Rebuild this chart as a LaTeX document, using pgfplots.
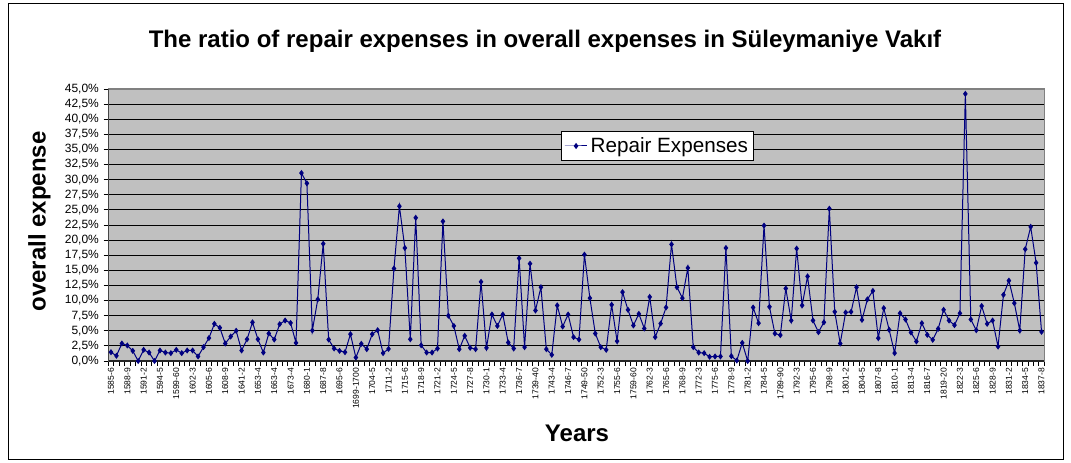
\documentclass[border=0pt]{standalone}
\usepackage{fontspec}
\setmainfont{Liberation Sans}
\usepackage{pgfplots}
\pgfplotsset{compat=1.18}
\definecolor{plotbg}{HTML}{C0C0C0}
\definecolor{navyblue}{HTML}{000080}
\definecolor{bordergray}{HTML}{808080}
\begin{document}
\begin{tikzpicture}
\useasboundingbox (0,0) rectangle (803.25pt,346.5pt);
\fill[white] (0,0) rectangle (803.25pt,346.5pt);
\draw[black, line width=0.75pt] (6pt,2.25pt) rectangle (797.25pt,344.25pt);
\begin{axis}[
  at={(81.2pt,75.75pt)}, anchor=south west,
  scale only axis, width=702pt, height=204pt,
  xmin=-0.5, xmax=171.5, ymin=0, ymax=45,
  axis background/.style={fill=plotbg},
  axis line style={draw=bordergray, line width=1pt},
  tick pos=left,
  ytick={0,2.5,...,45},
  yticklabels={{0,0\%},{2,5\%},{5,0\%},{7,5\%},{10,0\%},{12,5\%},{15,0\%},{17,5\%},{20,0\%},{22,5\%},{25,0\%},{27,5\%},{30,0\%},{32,5\%},{35,0\%},{37,5\%},{40,0\%},{42,5\%},{45,0\%}},
  yticklabel style={font=\fontsize{9}{10}\selectfont},
  ymajorgrids, grid style={black, line width=0.75pt},
  xtick={-0.5,0.5,...,171.5}, xticklabel=\empty,
  tick align=outside, major tick length=3.5pt,
  tick style={black, line width=0.6pt},
  extra x ticks={0,3,...,171},
  extra x tick labels={1585-6,1588-9,1591-2,1594-5,1599-60,1602-3,1605-6,1608-9,1641-2,1653-4,1663-4,1673-4,1680-1,1687-8,1695-6,1699-1700,1704-5,1711-2,1715-6,1718-9,1721-2,1724-5,1727-8,1730-1,1733-4,1736-7,1739-40,1743-4,1746-7,1749-50,1752-3,1755-6,1759-60,1762-3,1765-6,1768-9,1772-3,1775-6,1778-9,1781-2,1784-5,1789-90,1792-3,1795-6,1798-9,1801-2,1804-5,1807-8,1810-1,1813-4,1816-7,1819-20,1822-3,1825-6,1828-9,1831-2,1834-5,1837-8},
  extra x tick style={major tick length=0pt, grid=none,
    tick label style={rotate=90, anchor=east, font=\fontsize{6.4}{7}\selectfont, inner ysep=0.5pt, inner xsep=5pt}},
  legend style={at={(0.4837,0.8456)}, anchor=north west, draw=black, fill=white,
    font=\fontsize{15.5}{17}\selectfont, inner xsep=2pt, inner ysep=2.5pt, line width=0.75pt},
  legend cell align=left,
]
\addplot[navyblue, line width=0.75pt, mark=diamond*, mark size=1.7pt, mark options={fill=navyblue, draw=navyblue}] coordinates {
(0,1.46) (1,0.86) (2,2.9) (3,2.57) (4,1.68) (5,0.0) (6,1.85) (7,1.4) (8,0.0) (9,1.74)
(10,1.4) (11,1.3) (12,1.85) (13,1.3) (14,1.74) (15,1.74) (16,0.75) (17,2.3) (18,3.8) (19,6.15)
(20,5.5) (21,2.9) (22,4.05) (23,5.0) (24,1.74) (25,3.6) (26,6.4) (27,3.6) (28,1.4) (29,4.55)
(30,3.55) (31,6.1) (32,6.7) (33,6.3) (34,3.0) (35,31.1) (36,29.4) (37,5.05) (38,10.2) (39,19.4)
(40,3.55) (41,2.07) (42,1.68) (43,1.46) (44,4.44) (45,0.58) (46,2.84) (47,1.96) (48,4.44) (49,5.1)
(50,1.3) (51,2.0) (52,15.3) (53,25.6) (54,18.7) (55,3.6) (56,23.7) (57,2.6) (58,1.4) (59,1.4)
(60,2.07) (61,23.1) (62,7.5) (63,5.8) (64,1.96) (65,4.17) (66,2.18) (67,1.96) (68,13.1) (69,2.18)
(70,7.7) (71,5.8) (72,7.7) (73,3.06) (74,2.07) (75,17.0) (76,2.29) (77,16.1) (78,8.36) (79,12.2)
(80,1.96) (81,1.02) (82,9.2) (83,5.7) (84,7.7) (85,3.95) (86,3.55) (87,17.6) (88,10.4) (89,4.55)
(90,2.29) (91,1.85) (92,9.3) (93,3.28) (94,11.4) (95,8.47) (96,5.88) (97,7.8) (98,5.38) (99,10.6)
(100,3.95) (101,6.2) (102,8.86) (103,19.3) (104,12.2) (105,10.4) (106,15.4) (107,2.29) (108,1.4) (109,1.3)
(110,0.69) (111,0.75) (112,0.75) (113,18.7) (114,0.8) (115,0.08) (116,3.0) (117,0.0) (118,8.86) (119,6.26)
(120,22.4) (121,8.97) (122,4.55) (123,4.28) (124,12.0) (125,6.7) (126,18.6) (127,9.2) (128,14.0) (129,6.7)
(130,4.77) (131,6.4) (132,25.2) (133,8.14) (134,2.9) (135,8.03) (136,8.14) (137,12.2) (138,6.8) (139,10.2)
(140,11.6) (141,3.78) (142,8.75) (143,5.16) (144,1.3) (145,7.9) (146,6.87) (147,4.72) (148,3.23) (149,6.26)
(150,4.33) (151,3.5) (152,5.33) (153,8.47) (154,6.7) (155,5.93) (156,7.9) (157,44.2) (158,6.87) (159,5.1)
(160,9.1) (161,6.15) (162,6.7) (163,2.4) (164,10.95) (165,13.3) (166,9.57) (167,5.05) (168,18.5) (169,22.2)
(170,16.25) (171,4.83)
};
\addlegendentry{Repair Expenses}
\draw[black!85, line width=1pt] (rel axis cs:0,1) -- (rel axis cs:0,0) -- (rel axis cs:1,0);
\end{axis}
\node[font=\fontsize{18}{21}\selectfont\bfseries] at (408.75pt,315.75pt) {The ratio of repair expenses in overall expenses in Süleymaniye Vakıf};
\node[font=\fontsize{18}{21}\selectfont\bfseries, rotate=90] at (29.6pt,180.4pt) {overall expense};
\node[font=\fontsize{18}{21}\selectfont\bfseries] at (432.75pt,21.75pt) {Years};
\end{tikzpicture}
\end{document}
